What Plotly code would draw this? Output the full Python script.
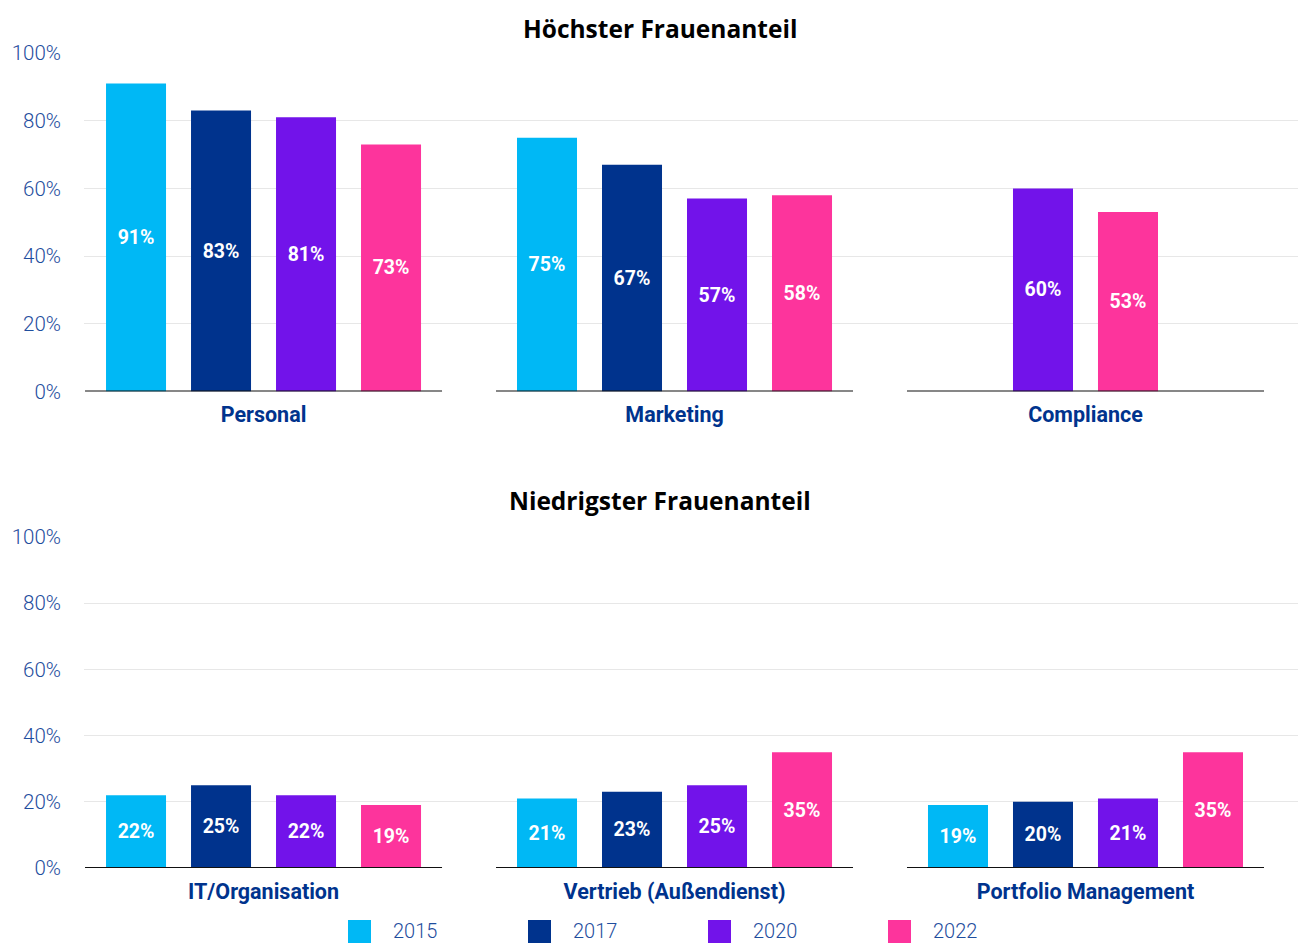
import plotly.graph_objects as go

# Data
years = ["2015", "2017", "2020", "2022"]
colors = ["#00B8F5", "#00338D", "#7213EA", "#FD349C"]

top_title = "Höchster Frauenanteil"
top_categories = ["Personal", "Marketing", "Compliance"]
top_2015 = [91, 75, None]
top_2017 = [83, 67, None]
top_2020 = [81, 57, 60]
top_2022 = [73, 58, 53]

bottom_title = "Niedrigster Frauenanteil"
bottom_categories = ["IT/Organisation", "Vertrieb (Außendienst)", "Portfolio Management"]
bottom_2015 = [22, 21, 19]
bottom_2017 = [25, 23, 20]
bottom_2020 = [22, 25, 21]
bottom_2022 = [19, 35, 35]

y_ticks = [0, 20, 40, 60, 80, 100]
y_tick_labels = [f"{v}%" for v in y_ticks]

# Layout constants (x in units of one bar slot)
GROUP_STEP = 4.835
BAR_WIDTH = 0.706
SEG_HALF = 2.1
X_RANGE = [-2.112, 12.17]

W, H = 1298, 945
LEFT = 84

TICK_COLOR = "#1f4e9e"
CAT_COLOR = "#00338D"
FONT = "Roboto"


def py(px):
    """Convert a pixel row (from top) to paper y."""
    return (H - px) / H


fig = go.Figure()
shapes = []
annotations = []

panels = [
    (top_title, top_categories, [top_2015, top_2017, top_2020, top_2022], "x", "y", 28),
    (bottom_title, bottom_categories, [bottom_2015, bottom_2017, bottom_2020, bottom_2022], "x2", "y2", 500),
]

for title, cats, series, xr, yr, title_px in panels:
    # place bars: present bars in each group are centred on the group
    xs = [[] for _ in years]
    ys = [[] for _ in years]
    for g in range(len(cats)):
        present = [i for i in range(len(years)) if series[i][g] is not None]
        n = len(present)
        for k, i in enumerate(present):
            xs[i].append(g * GROUP_STEP + (k - (n - 1) / 2))
            ys[i].append(series[i][g])
        # baseline segment under each group
        shapes.append(dict(
            type="line", xref=xr, yref=yr,
            x0=g * GROUP_STEP - SEG_HALF, x1=g * GROUP_STEP + SEG_HALF, y0=0, y1=0,
            line=dict(color="#111111", width=2), layer="above",
        ))
    for i, yr_name in enumerate(years):
        fig.add_trace(go.Bar(
            x=xs[i], y=ys[i], xaxis=xr, yaxis=yr, width=BAR_WIDTH,
            name=yr_name, marker=dict(color=colors[i], line=dict(width=0)),
            text=[f"{v}%" for v in ys[i]], textposition="inside",
            insidetextanchor="middle", textangle=0,
            textfont=dict(family=FONT, size=19.5, color="white", weight="bold"),
            showlegend=False, hoverinfo="skip",
        ))
    annotations.append(dict(
        text=f"<b>{title}</b>", xref="paper", yref="paper",
        x=(660 - LEFT) / (W - LEFT), y=py(title_px), xanchor="center", yanchor="middle",
        showarrow=False, font=dict(family="Open Sans", size=24.5, color="#000000"),
    ))

axis_common_x = dict(
    range=X_RANGE, showgrid=False, zeroline=False, showline=False,
    tickvals=[g * GROUP_STEP for g in range(3)], automargin=False,
    ticks="", ticklabelstandoff=8,
    tickfont=dict(family=FONT, size=21.5, color=CAT_COLOR, weight="bold"),
)
axis_common_y = dict(
    range=[0, 100], tickvals=y_ticks, ticktext=y_tick_labels, automargin=False,
    showgrid=True, gridcolor="#e7e7e7", gridwidth=1,
    zeroline=True, zerolinecolor="white", zerolinewidth=1,
    showline=False, ticks="", ticklabelstandoff=22,
    tickfont=dict(family=FONT, size=20.5, color=TICK_COLOR, weight=300),
)

fig.update_layout(
    width=W, height=H,
    margin=dict(l=LEFT, r=0, t=0, b=0, pad=0, autoexpand=False),
    paper_bgcolor="white", plot_bgcolor="white",
    barmode="overlay",
    showlegend=False,
    xaxis=dict(axis_common_x, domain=[0, 1], anchor="y", ticktext=top_categories),
    yaxis=dict(axis_common_y, domain=[py(391.5), py(53)], anchor="x"),
    xaxis2=dict(axis_common_x, domain=[0, 1], anchor="y2", ticktext=bottom_categories),
    yaxis2=dict(axis_common_y, domain=[py(868), py(537)], anchor="x2"),
)

# Legend row: colour swatch followed by year label
LEG_START = 348
LEG_PITCH = 180
LEG_Y = 931
for i, yr_name in enumerate(years):
    x0 = LEG_START + i * LEG_PITCH
    shapes.append(dict(
        type="rect", xref="paper", yref="paper",
        x0=(x0 - LEFT) / (W - LEFT), x1=(x0 + 23 - LEFT) / (W - LEFT),
        y0=py(LEG_Y + 12), y1=py(LEG_Y - 11),
        fillcolor=colors[i], line=dict(width=0),
    ))
    annotations.append(dict(
        text=yr_name, xref="paper", yref="paper",
        x=(x0 + 43 - LEFT) / (W - LEFT), y=py(LEG_Y), xanchor="left", yanchor="middle",
        showarrow=False, font=dict(family=FONT, size=20, color=TICK_COLOR, weight=300),
    ))

fig.update_layout(shapes=shapes, annotations=annotations)

fig.write_html("out.html")
